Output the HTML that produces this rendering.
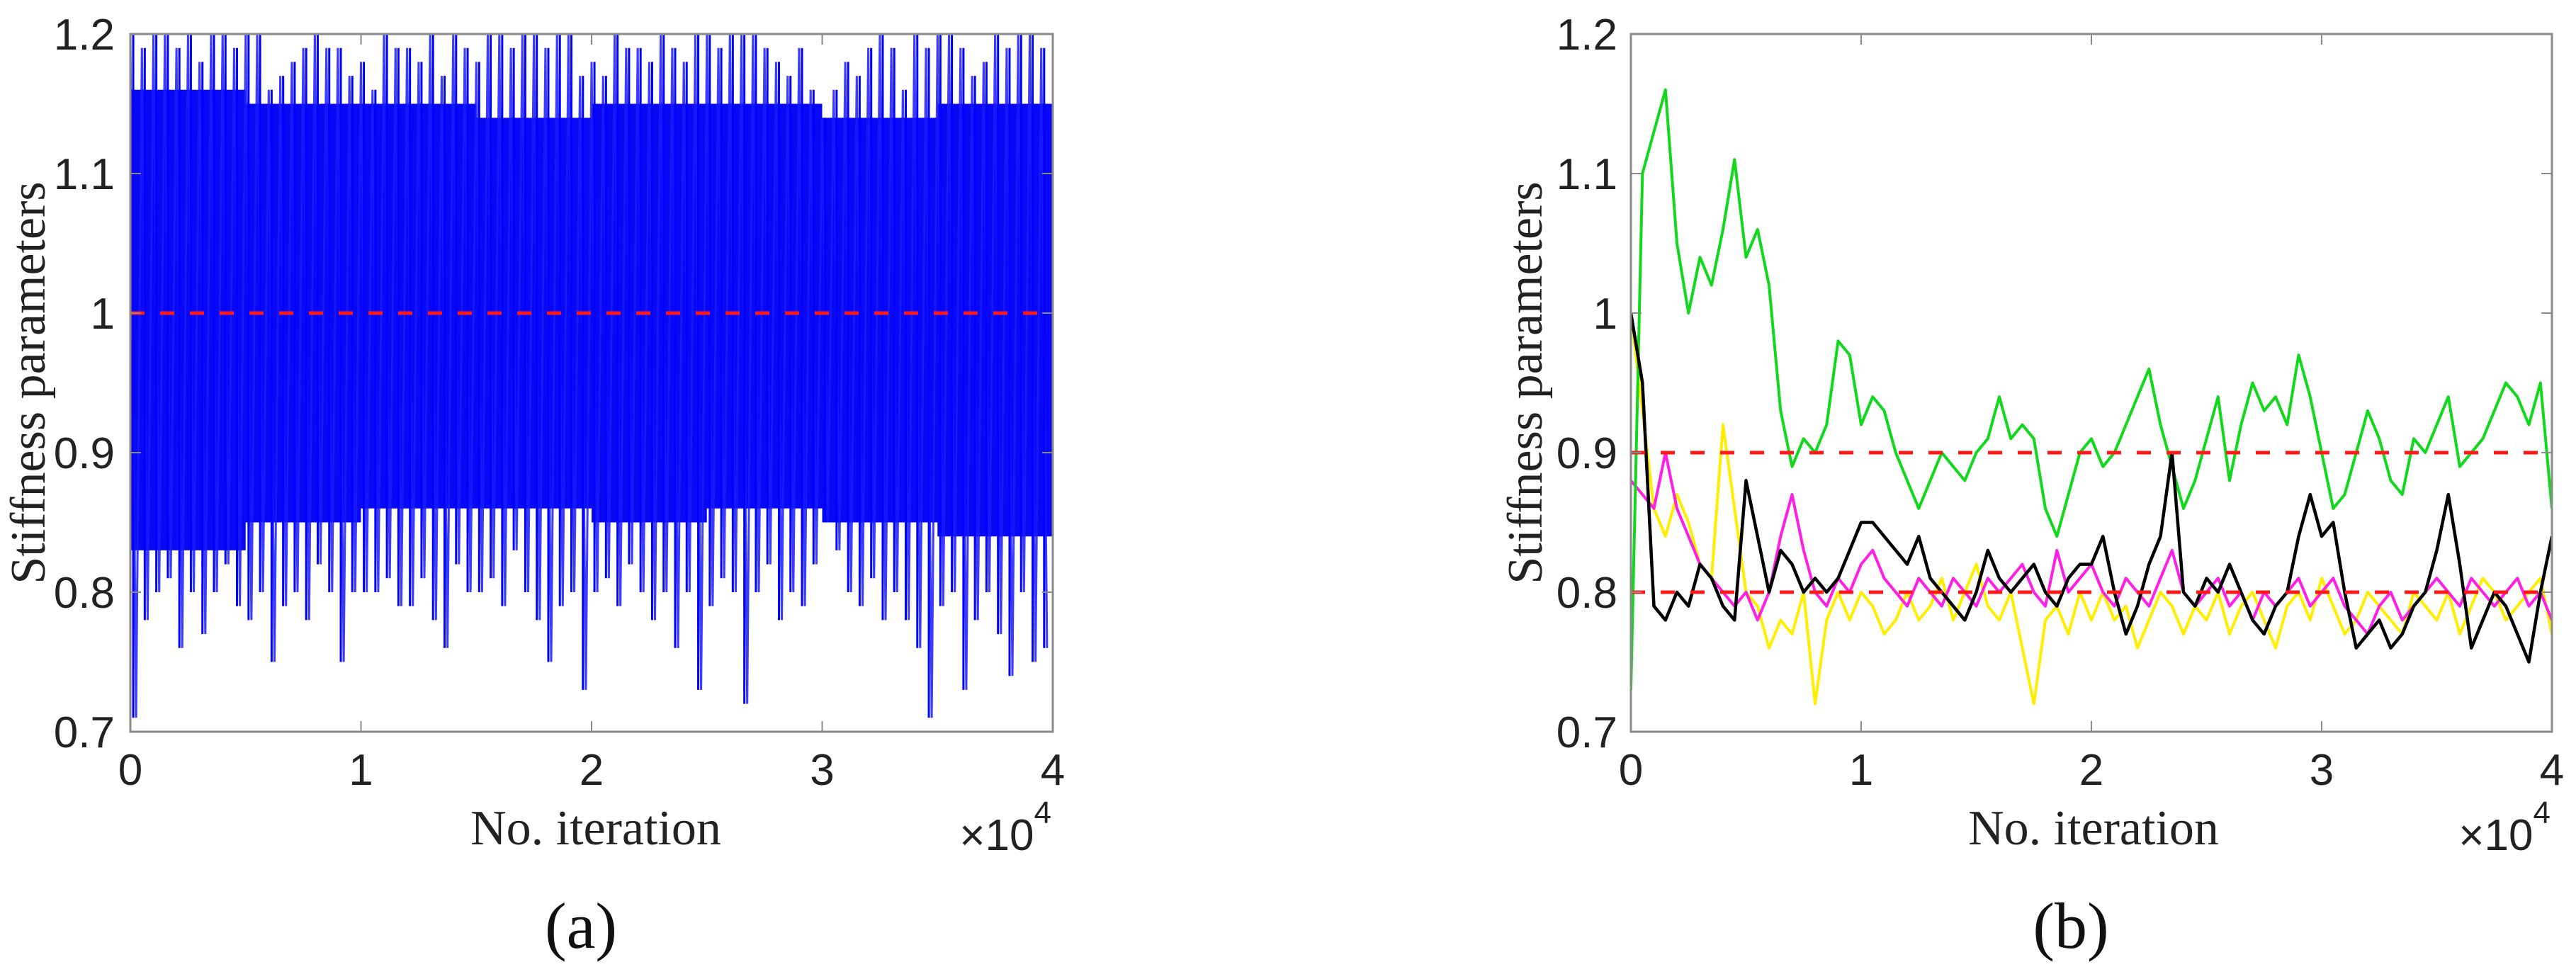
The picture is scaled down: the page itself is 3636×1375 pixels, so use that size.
<!DOCTYPE html>
<html><head><meta charset="utf-8"><style>
html,body{margin:0;padding:0;background:#fff;}
svg{display:block;}
.tk{font-family:"Liberation Sans",sans-serif;font-size:62px;fill:#222;}
.lb{font-family:"Liberation Serif",serif;font-size:70px;fill:#222;}
.cap{font-family:"Liberation Serif",serif;font-size:92px;fill:#111;}
</style></head><body>
<svg id="svg" width="3636" height="1375" viewBox="0 0 3636 1375" xmlns="http://www.w3.org/2000/svg">
<rect width="3636" height="1375" fill="#fff"/>
<g id="pa"></g>
<g id="pb"></g>
</svg>
<script>
const xTicks=[0,1,2,3,4];
const yTicks=[0.7,0.8,0.9,1.0,1.1,1.2];
const yTickLabels=["0.7","0.8","0.9","1","1.1","1.2"];
const aUpper=[1.20,1.19,1.20,1.20,1.19,1.20,1.18,1.20,1.20,1.19,1.20,1.20,1.16,1.17,1.18,1.19,1.20,1.19,1.19,1.17,1.18,1.16,1.20,1.19,1.19,1.18,1.20,1.17,1.20,1.19,1.18,1.20,1.20,1.19,1.20,1.20,1.19,1.20,1.20,1.17,1.18,1.17,1.20,1.19,1.19,1.18,1.20,1.19,1.18,1.20,1.20,1.19,1.20,1.20,1.20,1.19,1.18,1.17,1.19,1.16,1.14,1.16,1.18,1.17,1.19,1.20,1.19,1.16,1.20,1.19,1.20,1.20,1.19,1.17,1.18,1.20,1.19,1.20,1.20,1.19];
const aLower=[0.71,0.78,0.80,0.81,0.76,0.80,0.77,0.80,0.82,0.79,0.78,0.80,0.75,0.79,0.80,0.78,0.82,0.80,0.75,0.80,0.80,0.80,0.81,0.79,0.79,0.81,0.78,0.76,0.82,0.80,0.80,0.81,0.79,0.83,0.80,0.78,0.75,0.79,0.80,0.73,0.80,0.81,0.79,0.82,0.80,0.78,0.80,0.76,0.80,0.73,0.79,0.81,0.80,0.72,0.80,0.82,0.78,0.80,0.79,0.82,0.85,0.83,0.80,0.79,0.81,0.78,0.80,0.78,0.76,0.71,0.79,0.80,0.73,0.78,0.80,0.77,0.74,0.80,0.75,0.76];
const aCoreHigh=[1.16,1.15,1.15,1.14,1.15,1.15,1.14,1.15];
const aCoreLow=[0.83,0.85,0.86,0.86,0.85,0.86,0.85,0.84];
const aTrue=[1.0];
const bGreen=[0.73,1.10,1.13,1.16,1.05,1.00,1.04,1.02,1.06,1.11,1.04,1.06,1.02,0.93,0.89,0.91,0.90,0.92,0.98,0.97,0.92,0.94,0.93,0.90,0.88,0.86,0.88,0.90,0.89,0.88,0.90,0.91,0.94,0.91,0.92,0.91,0.86,0.84,0.87,0.90,0.91,0.89,0.90,0.92,0.94,0.96,0.92,0.89,0.86,0.88,0.91,0.94,0.88,0.92,0.95,0.93,0.94,0.92,0.97,0.94,0.90,0.86,0.87,0.90,0.93,0.91,0.88,0.87,0.91,0.90,0.92,0.94,0.89,0.90,0.91,0.93,0.95,0.94,0.92,0.95,0.86];
const bMagenta=[0.88,0.87,0.86,0.90,0.86,0.84,0.82,0.81,0.80,0.79,0.80,0.78,0.80,0.84,0.87,0.83,0.80,0.79,0.81,0.80,0.82,0.83,0.81,0.80,0.79,0.81,0.80,0.79,0.81,0.80,0.79,0.81,0.80,0.81,0.82,0.80,0.79,0.83,0.80,0.81,0.82,0.80,0.79,0.81,0.80,0.79,0.81,0.83,0.80,0.79,0.80,0.81,0.79,0.80,0.78,0.80,0.79,0.80,0.81,0.79,0.80,0.81,0.79,0.78,0.77,0.79,0.80,0.78,0.79,0.80,0.81,0.80,0.79,0.81,0.80,0.79,0.80,0.81,0.79,0.80,0.78];
const bYellow=[1.00,0.93,0.86,0.84,0.87,0.85,0.82,0.81,0.92,0.86,0.80,0.79,0.76,0.78,0.77,0.80,0.72,0.78,0.80,0.78,0.80,0.79,0.77,0.78,0.80,0.78,0.79,0.81,0.78,0.80,0.82,0.79,0.78,0.80,0.76,0.72,0.78,0.79,0.77,0.80,0.78,0.80,0.78,0.79,0.76,0.78,0.80,0.79,0.77,0.79,0.78,0.80,0.77,0.79,0.80,0.78,0.76,0.79,0.80,0.78,0.81,0.79,0.77,0.78,0.80,0.79,0.78,0.77,0.80,0.79,0.78,0.80,0.77,0.79,0.81,0.80,0.78,0.79,0.80,0.81,0.77];
const bBlack=[1.00,0.95,0.79,0.78,0.80,0.79,0.82,0.81,0.79,0.78,0.88,0.84,0.80,0.83,0.82,0.80,0.81,0.80,0.81,0.83,0.85,0.85,0.84,0.83,0.82,0.84,0.81,0.80,0.79,0.78,0.80,0.83,0.81,0.80,0.81,0.82,0.80,0.79,0.81,0.82,0.82,0.84,0.80,0.77,0.79,0.82,0.84,0.90,0.80,0.79,0.81,0.80,0.82,0.80,0.78,0.77,0.79,0.80,0.84,0.87,0.84,0.85,0.80,0.76,0.77,0.78,0.76,0.77,0.79,0.80,0.83,0.87,0.82,0.76,0.78,0.80,0.79,0.77,0.75,0.80,0.84];
const bTrue=[0.9,0.8];

const NS="http://www.w3.org/2000/svg";
function mk(parent,tag,attrs){const e=document.createElementNS(NS,tag);for(const k in attrs)e.setAttribute(k,attrs[k]);parent.appendChild(e);return e;}

function panel(g,L,R,T,B,labX,labOff,capX,capText,xLabX){
  const sx=v=>L+(v-0)/(4-0)*(R-L);
  const sy=v=>B-(v-0.7)/(1.2-0.7)*(B-T);
  return {sx,sy,frame:function(){
    const box=mk(g,'rect',{x:L,y:T,width:R-L,height:B-T,fill:'none',stroke:'#8a8a8a','stroke-width':3});
    
    xTicks.forEach(t=>{
      const x=sx(t);
      mk(g,'line',{x1:x,y1:B,x2:x,y2:B-15,stroke:'#8a8a8a','stroke-width':2});
      mk(g,'line',{x1:x,y1:T,x2:x,y2:T+15,stroke:'#8a8a8a','stroke-width':2});
      const tx=mk(g,'text',{x:x,y:1108,'text-anchor':'middle',class:'tk'});tx.textContent=String(t);
      
    });
    yTicks.forEach((t,i)=>{
      const y=sy(t);
      mk(g,'line',{x1:L,y1:y,x2:L+15,y2:y,stroke:'#8a8a8a','stroke-width':2});
      mk(g,'line',{x1:R,y1:y,x2:R-15,y2:y,stroke:'#8a8a8a','stroke-width':2});
      const tx=mk(g,'text',{x:L-labOff,y:y+22,'text-anchor':'end',class:'tk'});tx.textContent=yTickLabels[i];
      
    });
    const yl=mk(g,'text',{x:labX,y:(T+B)/2,'text-anchor':'middle',class:'lb',transform:`rotate(-90 ${labX} ${(T+B)/2})`,dy:'24'});
    yl.textContent='Stiffness parameters';
    const xl=mk(g,'text',{x:xLabX,y:1192,'text-anchor':'middle',class:'lb'});
    xl.textContent='No. iteration';
    const ex=mk(g,'text',{x:R-2,y:1200,'text-anchor':'end',class:'tk'});
    ex.innerHTML='×10<tspan dy="-38" font-size="44">4</tspan>';
    
    const cp=mk(g,'text',{x:capX,y:1338,'text-anchor':'middle',class:'cap'});
    cp.textContent=capText;
  }};
}

(function(){
  const g=document.getElementById('pa');
  const P=panel(g,184,1486,48,1033,39,22,820,'(a)',841);
  const {sx,sy}=P;
  const clip=mk(g,'clipPath',{id:'ca'});mk(clip,'rect',{x:184,y:48,width:1302,height:985});
  const dg=mk(g,'g',{'clip-path':'url(#ca)'});
  let pts=[];const nC=aCoreHigh.length;
  aCoreHigh.forEach((v,i)=>{pts.push([sx(i*4/nC),sy(v)],[sx((i+1)*4/nC),sy(v)]);});
  for(let i=nC-1;i>=0;i--){pts.push([sx((i+1)*4/nC),sy(aCoreLow[i])],[sx(i*4/nC),sy(aCoreLow[i])]);}
  const core=mk(dg,'polygon',{points:pts.map(p=>p.join(',')).join(' '),fill:'#0808f4'});
  
  const n=aUpper.length;let d='';
  for(let i=0;i<n;i++){
    const x0=sx(i*4/n),x1=sx((i+0.5)*4/n);
    d+=(i?'L':'M')+x0.toFixed(1)+','+sy(aUpper[i]).toFixed(1)+'L'+x1.toFixed(1)+','+sy(aLower[i]).toFixed(1);
  }
  const ch=mk(dg,'path',{d:d,fill:'none',stroke:'#1a1aff','stroke-width':3,'stroke-opacity':0.85});
  
  for(let i=0;i<n;i++){
    const x=sx((i+0.25)*4/n);
    const ln=mk(dg,'line',{x1:x,y1:sy(aUpper[i]),x2:x,y2:sy(aLower[i]),stroke:'#0000ff','stroke-width':3});
    
  }
  aTrue.forEach(v=>{
    const l=mk(dg,'line',{x1:184,y1:sy(v),x2:1486,y2:sy(v),stroke:'#ff1a1a','stroke-width':5,'stroke-dasharray':'20 22'});
    
  });
  P.frame();
})();

(function(){
  const g=document.getElementById('pb');
  const P=panel(g,2302,3602,48,1033,2152,19,2923,'(b)',2955);
  const {sx,sy}=P;
  const clip=mk(g,'clipPath',{id:'cb'});mk(clip,'rect',{x:2302,y:48,width:1300,height:985});
  const dg=mk(g,'g',{'clip-path':'url(#cb)'});
  const series=[[bYellow,'#ffee00','series-yellow',4],[bMagenta,'#ff1ee6','series-magenta',4],[bGreen,'#10d81a','series-green',4],[bBlack,'#000000','series-black',4.5]];
  series.forEach(([arr,col,name,w])=>{
    const step=4/(arr.length-1);
    const pts=arr.map((v,i)=>sx(i*step).toFixed(1)+','+sy(v).toFixed(1)).join(' ');
    const pl=mk(dg,'polyline',{points:pts,fill:'none',stroke:col,'stroke-width':w,'stroke-linejoin':'round'});
    
  });
  bTrue.forEach(v=>{
    const l=mk(dg,'line',{x1:2302,y1:sy(v),x2:3602,y2:sy(v),stroke:'#ff1a1a','stroke-width':5,'stroke-dasharray':'20 22'});
    
  });
  P.frame();
})();
</script>
</body></html>
